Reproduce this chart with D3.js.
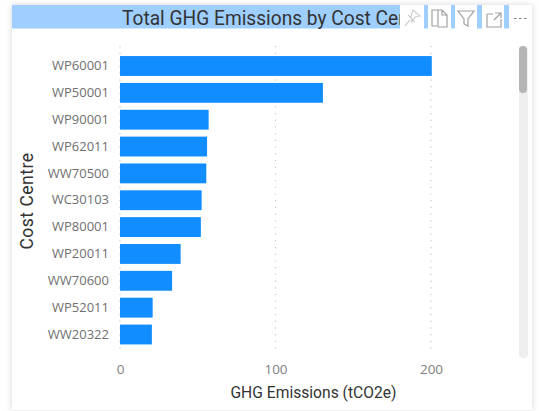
<!DOCTYPE html>
<html>
<head>
<meta charset="utf-8">
<script src="https://cdn.jsdelivr.net/npm/d3@7"></script>
<style>
  html, body { margin: 0; background: #fff; }
  svg { display: block; }
  text { font-family: Roboto, "Noto Sans", sans-serif; }
</style>
</head>
<body>
<div id="chart"></div>
<script>
const centres = ['WP60001', 'WP50001', 'WP90001', 'WP62011', 'WW70500', 'WC30103', 'WP80001', 'WP20011', 'WW70600', 'WP52011', 'WW20322'];
const emissions = [200.5, 130.5, 57, 56, 55.5, 52.5, 52, 39, 33.5, 21, 20.5];
const xTicks = [0, 100, 200];

const width = 539, height = 411;

const svg = d3.select('#chart').append('svg')
    .attr('width', width)
    .attr('height', height);

const defs = svg.append('defs');
const blur = defs.append('filter').attr('id', 'shadow')
    .attr('x', '-5%').attr('y', '-5%').attr('width', '110%').attr('height', '110%');
blur.append('feGaussianBlur').attr('stdDeviation', 3);

// title gets cut off by the icon strip
defs.append('clipPath').attr('id', 'title-clip')
    .append('rect')
        .attr('x', 12).attr('y', 5).attr('width', 388).attr('height', 24);

// card
svg.append('rect')
    .attr('x', 12).attr('y', 5).attr('width', 520).attr('height', 405)
    .attr('fill', '#bbb')
    .attr('opacity', 0.6)
    .attr('filter', 'url(#shadow)');
svg.append('rect')
    .attr('x', 12).attr('y', 5).attr('width', 520).attr('height', 405)
    .attr('fill', '#fff');

// title bar, runs behind the icon boxes
svg.append('rect')
    .attr('x', 12).attr('y', 5).attr('width', 497).attr('height', 23.5)
    .attr('fill', '#9fcfff');

const title = svg.append('g')
    .attr('clip-path', 'url(#title-clip)')
    .append('text')
        .attr('font-size', 20.5)
        .attr('fill', '#333')
        .text('Total GHG Emissions by Cost Centre');

// squeeze so that "...Cost Cen" stops right at the icon strip
let titleScale = 287 / title.node().getSubStringLength(0, 31);
title.attr('transform', `translate(122,25) scale(${titleScale},1)`);

// scales
const x = d3.scaleLinear().domain([0, 200]).range([120, 431]);
const y = d3.scaleBand().domain(centres).range([51.5, 349]).paddingInner(0.26).paddingOuter(0.17);

// gridlines
svg.append('g').selectAll('line')
    .data(xTicks)
    .join('line')
        .attr('x1', d => x(d)).attr('x2', d => x(d))
        .attr('y1', 46).attr('y2', 352)
        .attr('stroke', '#c8c8c8')
        .attr('stroke-width', 1.2)
        .attr('stroke-dasharray', '1.2 5.5');

// bars
svg.append('g').selectAll('rect')
    .data(emissions)
    .join('rect')
        .attr('x', x(0))
        .attr('y', (d, i) => y(centres[i]))
        .attr('width', d => x(d) - x(0))
        .attr('height', y.bandwidth())
        .attr('fill', '#118dff');

// axes
const xAxis = d3.axisBottom(x).tickValues(xTicks).tickSize(0).tickPadding(0);
const gx = svg.append('g').attr('transform', 'translate(0,364)').call(xAxis);
gx.select('.domain').remove();
gx.selectAll('text').attr('font-size', 13.5).attr('fill', '#808080').style('font-family', '"Open Sans"');

const yAxis = d3.axisLeft(y).tickSize(0).tickPadding(11);
const gy = svg.append('g').attr('transform', 'translate(120,0)').call(yAxis);
gy.select('.domain').remove();
gy.selectAll('text').attr('font-size', 13).attr('fill', '#707070').style('font-family', '"Open Sans"');

svg.append('text')
    .attr('transform', 'translate(313.5,398) scale(0.92,1)')
    .attr('text-anchor', 'middle')
    .attr('font-size', 17)
    .attr('fill', '#333')
    .text('GHG Emissions (tCO2e)');

svg.append('text')
    .attr('transform', 'translate(33,201) rotate(-90)')
    .attr('text-anchor', 'middle')
    .attr('font-size', 17.5)
    .attr('letter-spacing', 0.5)
    .attr('fill', '#333')
    .text('Cost Centre');

// scrollbar
svg.append('rect')
    .attr('x', 519).attr('y', 46).attr('width', 9).attr('height', 312).attr('rx', 4)
    .attr('fill', '#efefef');
svg.append('rect')
    .attr('x', 519).attr('y', 46).attr('width', 8).attr('height', 47).attr('rx', 4)
    .attr('fill', '#b5b5b5');

// header icons
const icons = [
    {x: 400, w: 24, color: '#d0d0d0', d: 'M5 21l5-6M8 10l7 7M13 5l7 6-5 1-3 5-1-6z'},
    {x: 428, w: 23, color: '#a0a0a0', d: 'M4 5h6v16h-6zM10 5h4l5 5v12h-9M14 5v5h5'},
    {x: 455, w: 22, color: '#a0a0a0', d: 'M3 6h16l-6 8v7l-4-2v-5z'},
    {x: 482, w: 22, color: '#a0a0a0', d: 'M5 9h6M5 9v13h14v-8M13 8h6v5M19 8l-7 7'},
    {x: 509, w: 23, color: '#808080', d: 'M5 13.5h2.5M10 13.5h2.5M15 13.5h2.5'}
];
const icon = svg.append('g').selectAll('g')
    .data(icons)
    .join('g')
        .attr('transform', d => `translate(${d.x},5)`);
icon.append('rect')
    .attr('width', d => d.w)
    .attr('height', 24)
    .attr('fill', '#fff');
icon.append('path')
    .attr('d', d => d.d)
    .attr('fill', 'none')
    .attr('stroke', d => d.color)
    .attr('stroke-width', 1.2);
</script>
</body>
</html>
